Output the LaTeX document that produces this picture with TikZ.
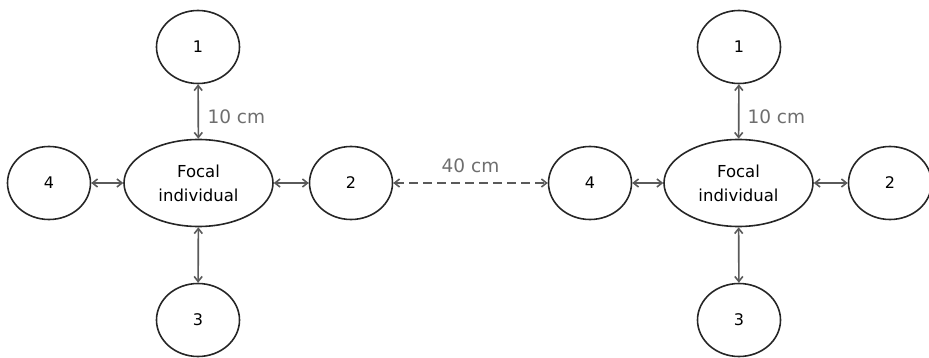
\documentclass[tikz,border=0pt]{standalone}
\usepackage{fontspec}
\setmainfont{DejaVu Sans}
\usetikzlibrary{arrows.meta,shapes.geometric}
\definecolor{linkgray}{HTML}{5A5A5A}
\definecolor{labelgray}{HTML}{6E6E6E}
\tikzset{
  spot/.style={draw=black!85, line width=1.6pt, ellipse, minimum width=83pt, minimum height=73pt, inner sep=0pt,
    font=\fontsize{16}{18}\selectfont},
  focal/.style={spot, minimum width=149pt, minimum height=87pt, align=center,
    font=\fontsize{16.5}{24}\selectfont},
  link/.style={draw=linkgray, line width=1.6pt, {Straight Barb[length=5pt,width=8pt]}-{Straight Barb[length=5pt,width=8pt]}},
  dist/.style={text=labelgray, font=\fontsize{18.5}{20}\selectfont}
}
\begin{document}
\begin{tikzpicture}[x=1pt, y=-1pt]
  \useasboundingbox (0,0) rectangle (929,358);
  % left group
  \node[focal] (fa) at (198.5,183) {Focal\\individual};
  \node[spot] (a1) at (198,47) {1};
  \node[spot] (a2) at (351,183) {2};
  \node[spot] (a3) at (198,320) {3};
  \node[spot] (a4) at (49,183) {4};
  % right group
  \node[focal] (fb) at (738.5,183) {Focal\\individual};
  \node[spot] (b1) at (739,47) {1};
  \node[spot] (b2) at (890,183) {2};
  \node[spot] (b3) at (739,320) {3};
  \node[spot] (b4) at (590,183) {4};
  % links within each group
  \foreach \g in {a,b}{
    \draw[link] (\g1) -- (f\g);
    \draw[link] (f\g) -- (\g3);
    \draw[link] (\g4) -- (f\g);
    \draw[link] (f\g) -- (\g2);
  }
  \node[dist, anchor=west] at (204,117) {10 cm};
  \node[dist, anchor=west] at (744,117) {10 cm};
  % distance between the two groups
  \draw[link, dashed, dash pattern=on 9pt off 5pt] (a2) -- (b4) node[midway, above=6pt, dist] {40 cm};
\end{tikzpicture}
\end{document}
